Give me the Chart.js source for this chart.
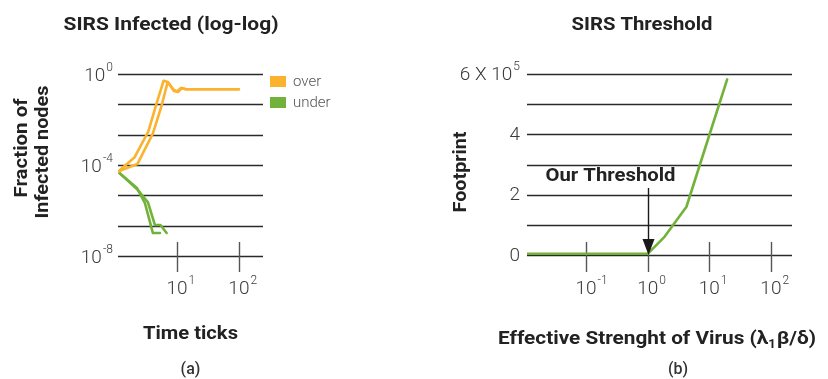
<!DOCTYPE html>
<html>
<head>
<meta charset="utf-8">
<script src="https://cdn.jsdelivr.net/npm/chart.js@4.4.1/dist/chart.umd.min.js"></script>
<style>
  html, body { margin: 0; padding: 0; background: #fff; }
  #wrap { position: relative; width: 828px; height: 379px; overflow: hidden; }
  canvas { position: absolute; top: 0; }
  #infected { left: 0; }
  #threshold { left: 414px; }
</style>
</head>
<body>
<div id="wrap">
  <canvas id="infected" width="414" height="379"></canvas>
  <canvas id="threshold" width="414" height="379"></canvas>
</div>
<script>
// ---- (a) SIRS infected fraction over time, two runs per regime ----
const overRun1Time  = [1.12, 2.08, 3.45, 4.70, 6.10, 7.16, 8.62, 10.0, 11.6, 14.0, 100];
const overRun1Frac  = [5.1e-5, 2.2e-4, 2.9e-3, 0.051, 0.507, 0.446, 0.219, 0.170, 0.243, 0.213, 0.213];
const overRun2Time  = [1.12, 2.30, 4.10, 5.60, 7.00, 7.71, 8.95, 10.4, 12.0, 14.0, 100];
const overRun2Frac  = [5.1e-5, 1.1e-4, 2.47e-3, 0.0365, 0.39, 0.33, 0.178, 0.162, 0.243, 0.213, 0.213];
const underRun1Time = [1.12, 2.26, 3.05, 4.10, 5.32];
const underRun1Frac = [5.1e-5, 9.8e-6, 2.1e-6, 1.02e-7, 1.02e-7];
const underRun2Time = [1.12, 2.31, 3.41, 4.42, 5.42, 6.82];
const underRun2Frac = [5.1e-5, 8.3e-6, 2.3e-6, 2.3e-7, 2.3e-7, 1.02e-7];

const infectedTickValues = [1, 1e-4, 1e-8];
const infectedTickExps   = ['0', '-4', '-8'];
const timeTickValues     = [10, 100];
const timeTickExps       = ['1', '2'];
const legendLabels       = ['over', 'under'];

// ---- (b) SIRS footprint against effective virus strength ----
const strength  = [0.011, 1.0, 1.89, 4.26, 10.0, 19.5];
const footprint = [4000, 4000, 61000, 160000, 397000, 582000];

const strengthTickValues  = [0.1, 1, 10, 100];
const strengthTickExps    = ['-1', '0', '1', '2'];
const footprintTickValues = [0, 200000, 400000, 600000];
const footprintTickLabels = ['0', '2', '4', '6 X 10'];
const footprintTickExps   = ['', '', '', '5'];
const thresholdValue = 1;

const ORANGE = '#FBB22E';
const GREEN  = '#73B23A';
const FONT   = 'Roboto, "Open Sans", sans-serif';

function zip(xs, ys) { return xs.map((x, i) => ({ x, y: ys[i] })); }

// text helper: optional horizontal squeeze to a given width
function text(ctx, str, x, y, opt) {
  ctx.save();
  ctx.font = opt.font;
  ctx.fillStyle = opt.color || '#222';
  ctx.textBaseline = 'middle';
  ctx.textAlign = 'left';
  const w = ctx.measureText(str).width;
  const sx = opt.width ? opt.width / w : 1;
  const dw = w * sx;
  let x0 = x;
  if (opt.align === 'center') x0 = x - dw / 2;
  else if (opt.align === 'right') x0 = x - dw;
  ctx.translate(x0, y);
  ctx.scale(sx, 1);
  ctx.fillText(str, 0, 0);
  ctx.restore();
  return dw;
}

// "10" with a raised exponent; align 'right' = whole label ends at x, 'base' = base centred at x
function powLabel(ctx, base, exp, x, y, align) {
  ctx.save();
  const baseFont = '300 19px ' + FONT;
  const supFont = '300 12px ' + FONT;
  ctx.font = baseFont;
  const bw = ctx.measureText(base).width;
  ctx.font = supFont;
  const ew = exp ? ctx.measureText(exp).width + 1 : 0;
  let x0 = align === 'right' ? x - bw - ew : x - bw / 2;
  ctx.fillStyle = '#3a3a3a';
  ctx.textBaseline = 'middle';
  ctx.textAlign = 'left';
  ctx.font = baseFont;
  ctx.fillText(base, x0, y);
  if (exp) {
    ctx.font = supFont;
    ctx.fillText(exp, x0 + bw + 1, y - 8);
  }
  ctx.restore();
}

function hLine(ctx, x1, x2, y, color, w) {
  ctx.save();
  ctx.strokeStyle = color; ctx.lineWidth = w;
  ctx.beginPath(); ctx.moveTo(x1, y); ctx.lineTo(x2, y); ctx.stroke();
  ctx.restore();
}
function vLine(ctx, x, y1, y2, color, w) {
  ctx.save();
  ctx.strokeStyle = color; ctx.lineWidth = w;
  ctx.beginPath(); ctx.moveTo(x, y1); ctx.lineTo(x, y2); ctx.stroke();
  ctx.restore();
}

const baseOptions = (xMin, xMax, yType, yMin, yMax, pad) => ({
  responsive: false,
  animation: false,
  devicePixelRatio: 1,
  layout: { padding: pad },
  plugins: { legend: { display: false }, tooltip: { enabled: false }, title: { display: false } },
  elements: { point: { radius: 0 }, line: { borderWidth: 2.6, tension: 0, borderJoinStyle: 'round', borderCapStyle: 'round' } },
  scales: {
    x: { type: 'logarithmic', min: xMin, max: xMax, display: false },
    y: { type: yType, min: yMin, max: yMax, display: false }
  }
});

// ---------- chart (a) ----------
const infectedDecor = {
  id: 'infectedDecor',
  beforeDatasetsDraw(chart) {
    const { ctx, chartArea: a, scales: { x, y } } = chart;
    // seven evenly spaced horizontal rules across the log axis
    const lo = Math.log10(y.min), hi = Math.log10(y.max);
    for (let k = 0; k <= 6; k++) {
      const py = Math.round(y.getPixelForValue(Math.pow(10, lo + (hi - lo) * k / 6))) + 0.5;
      hLine(ctx, a.left, a.right, py, '#2a2a2a', 1.4);
    }
    timeTickValues.forEach(v => {
      const px = Math.round(x.getPixelForValue(v)) + 0.5;
      vLine(ctx, px, a.bottom - 14, a.bottom + 16, '#555', 1.4);
    });
  },
  afterDraw(chart) {
    const { ctx, chartArea: a, scales: { x, y } } = chart;
    infectedTickValues.forEach((v, i) => powLabel(ctx, '10', infectedTickExps[i], a.left - 5, y.getPixelForValue(v) + 2, 'right'));
    timeTickValues.forEach((v, i) => powLabel(ctx, '10', timeTickExps[i], x.getPixelForValue(v), 289, 'base'));

    text(ctx, 'SIRS Infected (log-log)', 171, 25, { font: 'bold 19px ' + FONT, align: 'center', width: 215 });
    text(ctx, 'Time ticks', (a.left + a.right) / 2, 334, { font: 'bold 19px ' + FONT, align: 'center', width: 95 });
    text(ctx, '(a)', (a.left + a.right) / 2, 370, { font: '500 16px ' + FONT, align: 'center', color: '#333' });

    ctx.save();
    ctx.translate(22, 148);
    ctx.rotate(-Math.PI / 2);
    text(ctx, 'Fraction of', 0, 0, { font: 'bold 19px ' + FONT, align: 'center', width: 99 });
    ctx.restore();
    ctx.save();
    ctx.translate(43, 152);
    ctx.rotate(-Math.PI / 2);
    text(ctx, 'Infected nodes', 0, 0, { font: 'bold 19px ' + FONT, align: 'center', width: 133 });
    ctx.restore();

    // legend
    const colors = [ORANGE, GREEN];
    legendLabels.forEach((lbl, i) => {
      const ty = 82 + i * 21;
      ctx.fillStyle = colors[i];
      ctx.fillRect(a.right + 7, ty - 6, 16, 11);
      text(ctx, lbl, a.right + 30, ty, { font: '300 15px ' + FONT, color: '#555' });
    });
  }
};

const lineSet = (label, data, color) => ({ label, data, borderColor: color, backgroundColor: color, fill: false });

new Chart(document.getElementById('infected'), {
  type: 'line',
  data: {
    datasets: [
      lineSet('over', zip(overRun1Time, overRun1Frac), ORANGE),
      lineSet('over', zip(overRun2Time, overRun2Frac), ORANGE),
      lineSet('under', zip(underRun1Time, underRun1Frac), GREEN),
      lineSet('under', zip(underRun2Time, underRun2Frac), GREEN)
    ]
  },
  options: baseOptions(1.12, 245, 'logarithmic', 1e-8, 1, { left: 118, right: 151, top: 74, bottom: 123 }),
  plugins: [infectedDecor]
});

// ---------- chart (b) ----------
const thresholdDecor = {
  id: 'thresholdDecor',
  beforeDatasetsDraw(chart) {
    const { ctx, chartArea: a, scales: { x, y } } = chart;
    for (let v = 0; v <= 600000; v += 100000) {
      const py = Math.round(y.getPixelForValue(v)) + 0.5;
      hLine(ctx, a.left, a.right, py, '#2a2a2a', 1.4);
    }
    strengthTickValues.forEach(v => {
      const px = Math.round(x.getPixelForValue(v)) + 0.5;
      vLine(ctx, px, a.bottom - 13, a.bottom + 17, '#555', 1.4);
    });
  },
  afterDraw(chart) {
    const { ctx, chartArea: a, scales: { x, y } } = chart;
    footprintTickValues.forEach((v, i) => powLabel(ctx, footprintTickLabels[i], footprintTickExps[i], a.left - 7, y.getPixelForValue(v) + 1, 'right'));
    strengthTickValues.forEach((v, i) => powLabel(ctx, '10', strengthTickExps[i], x.getPixelForValue(v), 289, 'base'));

    // threshold marker
    const tx = Math.round(x.getPixelForValue(thresholdValue)) + 0.5;
    const ty = y.getPixelForValue(0);
    vLine(ctx, tx, 188, ty - 12, '#1a1a1a', 1.4);
    ctx.save();
    ctx.fillStyle = '#1a1a1a';
    ctx.beginPath();
    ctx.moveTo(tx - 6, ty - 16);
    ctx.lineTo(tx + 6, ty - 16);
    ctx.lineTo(tx, ty);
    ctx.closePath();
    ctx.fill();
    ctx.restore();
    text(ctx, 'Our Threshold', tx - 38, 176, { font: 'bold 18px ' + FONT, align: 'center', width: 130 });

    text(ctx, 'SIRS Threshold', 642 - 414, 25, { font: 'bold 19px ' + FONT, align: 'center', width: 141 });

    ctx.save();
    ctx.translate(461 - 414, 172);
    ctx.rotate(-Math.PI / 2);
    text(ctx, 'Footprint', 0, 0, { font: 'bold 19px ' + FONT, align: 'center', width: 81 });
    ctx.restore();

    // x-axis title with subscript
    ctx.save();
    const f = 'bold 19px ' + FONT, fs = 'bold 12px ' + FONT;
    ctx.font = f;
    const p1 = 'Effective Strenght of Virus (λ', p2 = 'β/δ)';
    const w1 = ctx.measureText(p1).width, w3 = ctx.measureText(p2).width;
    ctx.font = fs;
    const w2 = ctx.measureText('1').width + 1;
    const sx = 318 / (w1 + w2 + w3);
    const cx = 657 - 414, cy = 339;
    ctx.translate(cx - 159, cy);
    ctx.scale(sx, 1);
    ctx.fillStyle = '#222';
    ctx.textBaseline = 'middle';
    ctx.textAlign = 'left';
    ctx.font = f; ctx.fillText(p1, 0, 0);
    ctx.font = fs; ctx.fillText('1', w1, 6);
    ctx.font = f; ctx.fillText(p2, w1 + w2, 0);
    ctx.restore();

    text(ctx, '(b)', 678 - 414, 370, { font: '500 16px ' + FONT, align: 'center', color: '#333' });
  }
};

new Chart(document.getElementById('threshold'), {
  type: 'line',
  data: {
    datasets: [lineSet('footprint', zip(strength, footprint), GREEN)]
  },
  options: baseOptions(0.011, 220, 'linear', 0, 600000, { left: 113, right: 36, top: 74, bottom: 124 }),
  plugins: [thresholdDecor]
});
</script>
</body>
</html>
